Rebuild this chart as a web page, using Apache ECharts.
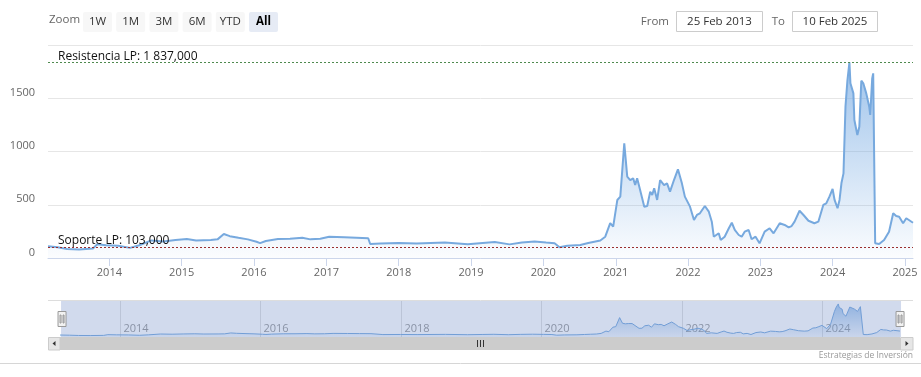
<!DOCTYPE html>
<html>
<head>
<meta charset="utf-8">
<script src="https://cdn.jsdelivr.net/npm/echarts@6/dist/echarts.min.js"></script>
<style>
html,body{margin:0;padding:0;background:#fff;}
#chart{width:921px;height:377px;}
</style>
</head>
<body>
<div id="chart"></div>
<script>
// ---- Data ----
const dates = [
 '2013-02-25','2013-04-15','2013-06-01','2013-08-01','2013-10-10','2013-11-01','2013-12-15',
 '2014-02-15','2014-04-15','2014-06-01','2014-08-01','2014-10-01','2014-12-01',
 '2015-01-27','2015-03-15','2015-05-28','2015-07-01','2015-08-02','2015-09-01','2015-10-15','2015-12-01',
 '2016-01-14','2016-02-01','2016-03-01','2016-05-01','2016-07-01','2016-09-01','2016-10-12','2016-12-01',
 '2017-01-15','2017-04-01','2017-06-01','2017-07-31','2017-08-10','2017-10-01',
 '2018-01-01','2018-04-01','2018-08-22','2018-12-16',
 '2019-03-01','2019-05-01','2019-07-15','2019-09-15','2019-11-18',
 '2020-01-15','2020-02-27','2020-03-23','2020-05-01','2020-07-06','2020-08-15','2020-09-15','2020-10-15',
 '2020-11-09','2020-12-04','2020-12-19',
 '2021-01-09','2021-01-24','2021-02-13','2021-02-28','2021-03-15','2021-03-30','2021-04-09','2021-04-19',
 '2021-05-04','2021-05-25','2021-06-09','2021-06-24','2021-07-04','2021-07-14','2021-07-29','2021-08-13',
 '2021-09-02','2021-09-17','2021-10-02','2021-10-22','2021-11-01','2021-11-11','2021-12-01','2021-12-16',
 '2022-01-11','2022-01-31','2022-02-15','2022-03-02','2022-03-12','2022-03-27','2022-04-16','2022-05-01',
 '2022-05-11','2022-06-05','2022-06-15','2022-07-05','2022-07-26','2022-08-10','2022-08-25','2022-09-14',
 '2022-09-29','2022-10-14','2022-11-03','2022-11-18','2022-12-08','2022-12-28',
 '2023-01-23','2023-02-17','2023-03-09','2023-04-09','2023-05-04','2023-05-24','2023-06-08','2023-06-23',
 '2023-07-18','2023-08-07','2023-09-01','2023-10-01','2023-10-21','2023-11-15','2023-11-30','2023-12-16',
 '2024-01-01','2024-01-11','2024-01-26','2024-02-05','2024-02-15','2024-02-25','2024-03-06','2024-03-16',
 '2024-03-26','2024-03-31','2024-04-15','2024-04-20','2024-05-05','2024-05-15','2024-05-25','2024-06-04',
 '2024-06-19','2024-07-04','2024-07-09','2024-07-19','2024-07-24','2024-08-03','2024-08-23','2024-09-17',
 '2024-10-12','2024-11-02','2024-11-17','2024-12-02','2024-12-22','2025-01-07','2025-02-10'
];
const prices = [
 110,100,85,80,90,130,120,
 115,95,120,165,155,170,
 178,165,170,175,225,205,190,175,
 153,140,160,178,180,190,175,180,
 200,195,190,185,131,135,
 140,135,145,128,
 140,150,128,145,155,
 145,138,100,115,122,140,153,165,
 200,328,294,
 545,576,1077,764,732,748,685,748,
 638,482,488,623,592,654,545,732,
 685,701,623,732,748,833,701,576,
 482,357,404,420,404,488,435,341,
 200,232,169,200,279,331,263,216,
 200,247,263,176,200,138,
 247,279,232,326,310,288,300,341,
 444,404,350,326,341,498,513,576,
 648,545,467,545,707,795,1421,1671,
 1837,1640,1546,1296,1155,1233,1665,1640,
 1546,1421,1343,1687,1734,138,131,169,
 247,420,394,388,326,373,331
];
const rangeStart = '2013-02-25';
const rangeEnd = '2025-02-10';
const yTicks = [0, 500, 1000, 1500, 2000];
const levelValues = [1837, 103];
const levelLabels = ['Resistencia LP: 1 837,000', 'Soporte LP: 103,000'];
const levelColors = ['#4f8a4f', '#9b2f2f'];
const navYears = ['2014', '2016', '2018', '2020', '2022', '2024'];
const zoomButtons = ['1W', '1M', '3M', '6M', 'YTD', 'All'];
const fromText = '25 Feb 2013';
const toText = '10 Feb 2025';
const creditText = 'Estrategias de Inversión';

const FONT = '"Open Sans", "DejaVu Sans", sans-serif';
const seriesData = dates.map((d, i) => [d, prices[i]]);

function areaGrad(a1, a2) {
  return new echarts.graphic.LinearGradient(0, 0, 0, 1, [
    {offset: 0, color: 'rgba(110,165,225,' + a1 + ')'},
    {offset: 1, color: 'rgba(110,165,225,' + a2 + ')'}
  ]);
}

const chart = echarts.init(document.getElementById('chart'), null, {renderer: 'canvas'});

// range selector graphics
const graphics = [];
graphics.push({type: 'text', left: 49, top: 14, style: {text: 'Zoom', fill: '#666', font: '11.5px ' + FONT}});
zoomButtons.forEach((b, i) => {
  const x = 83 + i * 33.2;
  const sel = b === 'All';
  graphics.push({type: 'rect', shape: {x: x, y: 12, width: 29, height: 20, r: 2},
    style: {fill: sel ? '#e6ebf5' : '#f7f7f7'}});
  graphics.push({type: 'text', x: x + 14.5, y: 22,
    style: {text: b, fill: sel ? '#000' : '#333', font: (sel ? 'bold ' : '') + '11.5px ' + FONT,
      align: 'center', verticalAlign: 'middle'}});
});
graphics.push({type: 'text', x: 669, y: 22, style: {text: 'From', fill: '#666', font: '11.5px ' + FONT, align: 'right', verticalAlign: 'middle'}});
graphics.push({type: 'rect', shape: {x: 676.5, y: 11.5, width: 86, height: 20}, style: {fill: '#fff', stroke: '#cccccc', lineWidth: 1}});
graphics.push({type: 'text', x: 719.5, y: 22, style: {text: fromText, fill: '#333', font: '11.5px ' + FONT, align: 'center', verticalAlign: 'middle'}});
graphics.push({type: 'text', x: 785, y: 22, style: {text: 'To', fill: '#666', font: '11.5px ' + FONT, align: 'right', verticalAlign: 'middle'}});
graphics.push({type: 'rect', shape: {x: 792.5, y: 11.5, width: 85, height: 20}, style: {fill: '#fff', stroke: '#cccccc', lineWidth: 1}});
graphics.push({type: 'text', x: 835, y: 22, style: {text: toText, fill: '#333', font: '11.5px ' + FONT, align: 'center', verticalAlign: 'middle'}});
// navigator outline top
graphics.push({type: 'line', shape: {x1: 48, y1: 300.5, x2: 913, y2: 300.5}, style: {stroke: '#dddddd', lineWidth: 1}, z: 10});
// scrollbar
graphics.push({type: 'rect', shape: {x: 60, y: 337, width: 840, height: 13}, style: {fill: '#cccccc'}, z: 10});
graphics.push({type: 'rect', shape: {x: 48.5, y: 337.5, width: 11.5, height: 12.5}, style: {fill: '#e6e6e6', stroke: '#cccccc', lineWidth: 1}, z: 10});
graphics.push({type: 'rect', shape: {x: 900.5, y: 337.5, width: 12.5, height: 12.5}, style: {fill: '#e6e6e6', stroke: '#cccccc', lineWidth: 1}, z: 10});
graphics.push({type: 'polygon', shape: {points: [[52.5, 343.5], [55.5, 341], [55.5, 346]]}, style: {fill: '#333'}, z: 11});
graphics.push({type: 'polygon', shape: {points: [[908.5, 343.5], [905.5, 341], [905.5, 346]]}, style: {fill: '#333'}, z: 11});
[477.5, 480.5, 483.5].forEach(x => {
  graphics.push({type: 'line', shape: {x1: x, y1: 340, x2: x, y2: 347}, style: {stroke: '#333', lineWidth: 1}, z: 11});
});
// credit and bottom line
graphics.push({type: 'text', x: 913, y: 356, style: {text: creditText, fill: '#999', font: '8.5px ' + FONT, align: 'right', verticalAlign: 'middle'}});
graphics.push({type: 'line', shape: {x1: 0, y1: 363.5, x2: 921, y2: 363.5}, style: {stroke: '#d6d6d6', lineWidth: 1}});

const option = {
  animation: false,
  backgroundColor: '#fff',
  textStyle: {fontFamily: FONT},
  grid: [
    {left: 48, right: 8, top: 45, height: 213},
    {left: 60, right: 21, top: 301, height: 36}
  ],
  xAxis: [
    {
      type: 'time', gridIndex: 0, min: rangeStart, max: rangeEnd,
      splitNumber: 12,
      minInterval: 365 * 86400000, maxInterval: 366 * 86400000,
      axisLine: {lineStyle: {color: '#ccd6eb'}},
      axisTick: {show: true, length: 8, lineStyle: {color: '#ccd6eb'}},
      splitLine: {show: false},
      axisLabel: {
        color: '#666', fontSize: 11, fontFamily: FONT, margin: 9,
        showMinLabel: false, showMaxLabel: false, hideOverlap: false,
        formatter: function (v) {
          const d = new Date(v);
          return (d.getMonth() === 0 && d.getDate() === 1) ? String(d.getFullYear()) : '';
        }
      }
    },
    {type: 'time', gridIndex: 1, min: rangeStart, max: rangeEnd, show: false}
  ],
  yAxis: [
    {
      type: 'value', gridIndex: 0, min: yTicks[0], max: yTicks[yTicks.length - 1], interval: 500,
      axisLine: {show: false}, axisTick: {show: false},
      splitLine: {lineStyle: {color: '#e6e6e6'}},
      axisLabel: {
        color: '#666', fontSize: 11, fontFamily: FONT, margin: 13, verticalAlign: 'bottom',
        formatter: function (v) { return v === 2000 ? '' : String(v); }
      }
    },
    {type: 'value', gridIndex: 1, min: 0, max: 2000, show: false}
  ],
  dataZoom: [{
    type: 'slider', xAxisIndex: 0, left: 60, right: 21, top: 301, height: 36,
    start: 0, end: 100, showDataShadow: false, showDetail: false, brushSelect: false,
    moveHandleSize: 0, backgroundColor: 'rgba(0,0,0,0)', borderColor: 'rgba(0,0,0,0)',
    fillerColor: 'rgba(102,133,194,0.3)',
    handleIcon: 'path://M-4,-7.5h8v15h-8z M-2,-4v8h1v-8z M1,-4v8h1v-8z',
    handleSize: 15,
    handleStyle: {color: '#f2f2f2', borderColor: '#999999', borderWidth: 1},
    emphasis: {handleStyle: {color: '#f2f2f2', borderColor: '#999999'}},
    z: 6
  }],
  graphic: graphics,
  series: [
    {
      type: 'line', xAxisIndex: 0, yAxisIndex: 0, data: seriesData,
      showSymbol: false, symbol: 'none',
      lineStyle: {color: '#77a9de', width: 2},
      itemStyle: {color: '#77a9de'},
      areaStyle: {color: areaGrad(0.95, 0.04)},
      markLine: {
        silent: true, symbol: 'none',
        data: levelValues.map((v, i) => ({
          yAxis: v,
          lineStyle: {color: levelColors[i], type: [2, 2], width: 1},
          label: {
            show: true, position: 'insideStartTop', formatter: levelLabels[i],
            color: '#111', fontSize: 12, fontFamily: FONT, distance: [10, 0]
          }
        }))
      },
      z: 3
    },
    {
      type: 'line', xAxisIndex: 1, yAxisIndex: 1, data: seriesData,
      showSymbol: false, symbol: 'none', silent: true,
      lineStyle: {color: '#77a9de', width: 1},
      areaStyle: {color: areaGrad(0.9, 0.1)},
      z: 2
    },
    {
      type: 'custom', xAxisIndex: 1, yAxisIndex: 1, silent: true, z: 1,
      data: navYears.map(y => [y + '-01-01', 0]),
      renderItem: function (params, api) {
        const p = api.coord([api.value(0), 0]);
        const t = api.coord([api.value(0), 2000]);
        const x = Math.round(p[0]) + 0.5;
        return {type: 'group', children: [
          {type: 'line', shape: {x1: x, y1: t[1], x2: x, y2: p[1]}, style: {stroke: '#e0e0e0', lineWidth: 1}},
          {type: 'text', style: {text: navYears[params.dataIndex], x: x + 3, y: p[1] - 8,
            verticalAlign: 'middle', fill: '#999', font: '11px ' + FONT}}
        ]};
      }
    }
  ]
};
chart.setOption(option);
</script>
</body>
</html>
